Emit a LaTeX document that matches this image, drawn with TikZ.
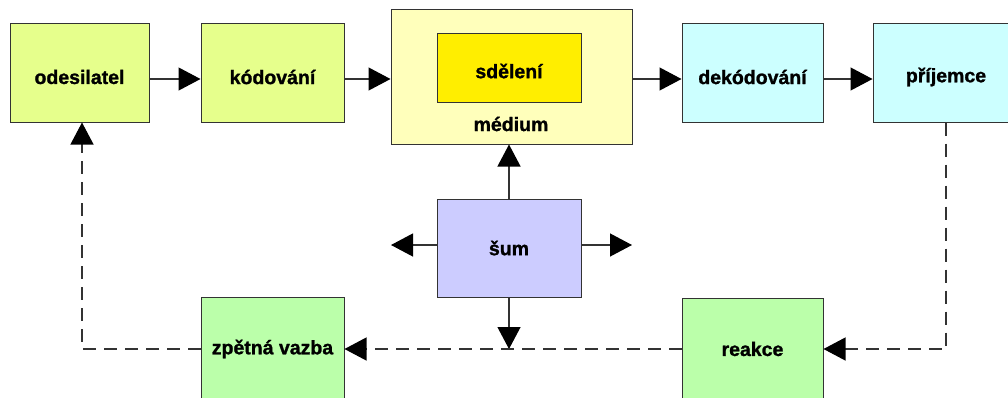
\documentclass[tikz,border=0pt]{standalone}
\usepackage{fontspec}
\setmainfont{Liberation Sans}[BoldFeatures={FakeBold=1.2}]
\usetikzlibrary{arrows.meta}
\definecolor{cLime}{RGB}{230,255,140}
\definecolor{cPale}{RGB}{255,255,187}
\definecolor{cMsg}{RGB}{255,238,0}
\definecolor{cCyan}{RGB}{204,255,255}
\definecolor{cNoise}{RGB}{204,204,255}
\definecolor{cGreen}{RGB}{187,255,170}
\definecolor{cEdge}{RGB}{51,51,51}
\tikzset{
  box/.style={draw=cEdge, line width=1pt, rectangle, inner sep=0pt,
    font=\fontsize{19.5}{22}\selectfont\bfseries},
  lbl/.style={inner sep=0pt, font=\fontsize{19.5}{22}\selectfont\bfseries},
  conn/.style={draw=cEdge, line width=1.2pt,
    -{Triangle[length=22pt,width=23pt,color=black]}},
  fb/.style={conn, dash pattern=on 13pt off 8pt}
}
\begin{document}
\begin{tikzpicture}[x=1pt,y=-1pt]
\useasboundingbox (0,0) rectangle (1008,397);
\clip (0,0) rectangle (1008,397);
\fill[white] (0,0) rectangle (1008,397);
% top row: boxes with their labels set a little below centre
\node[box, fill=cLime, minimum width=139pt, minimum height=99pt] (odes) at (79.5,72.5) {};
\node[lbl] (odesl) at (79.5,77) {odesilatel};
\node[box, fill=cLime, minimum width=143pt, minimum height=99pt] (kod) at (272.5,72.5) {};
\node[lbl] (kodl) at (272.5,77) {kódování};
\node[box, fill=cPale, minimum width=241pt, minimum height=135pt] (med) at (511.5,76.5) {};
\node[box, fill=cMsg, minimum width=144pt, minimum height=69pt] (sdel) at (509,67.5) {};
\node[lbl] (sdell) at (509,71) {sdělení};
\node[lbl] (medl) at (511,124) {médium};
\node[box, fill=cCyan, minimum width=141pt, minimum height=99pt] (dek) at (752.5,72.5) {};
\node[lbl] (dekl) at (752.5,77) {dekódování};
\node[box, fill=cCyan, minimum width=146pt, minimum height=99pt] (prij) at (946,72.5) {};
\node[lbl] (prijl) at (946,77) {příjemce};
% noise
\node[box, fill=cNoise, minimum width=144pt, minimum height=98pt] (sum) at (509,248) {šum};
% bottom row
\node[box, fill=cGreen, minimum width=143pt, minimum height=104pt] (zpet) at (272.5,349) {zpětná vazba};
\node[box, fill=cGreen, minimum width=141pt, minimum height=102pt] (reak) at (752.5,349) {reakce};
% arrow level of the top row and free ends of the noise arrows
\coordinate (row) at (0,79);
\coordinate (nl) at (391,245);
\coordinate (nr) at (632,245);
\coordinate (nd) at (509,349);
% forward chain
\draw[conn] (odes.east |- row) -- (kod.west |- row);
\draw[conn] (kod.east |- row) -- (med.west |- row);
\draw[conn] (med.east |- row) -- (dek.west |- row);
\draw[conn] (dek.east |- row) -- (prij.west |- row);
% noise arrows
\draw[conn] (sum.north) -- (med.south -| sum.north);
\draw[conn] (sum.west |- nl) -- (nl);
\draw[conn] (sum.east |- nr) -- (nr);
\draw[conn] (sum.south) -- (nd);
% feedback loop
\draw[fb] (prij.south) |- (reak.east);
\draw[fb] (reak.west) -- (zpet.east);
\draw[fb] (zpet.west) -| ([xshift=2.5pt]odes.south);
\end{tikzpicture}
\end{document}
